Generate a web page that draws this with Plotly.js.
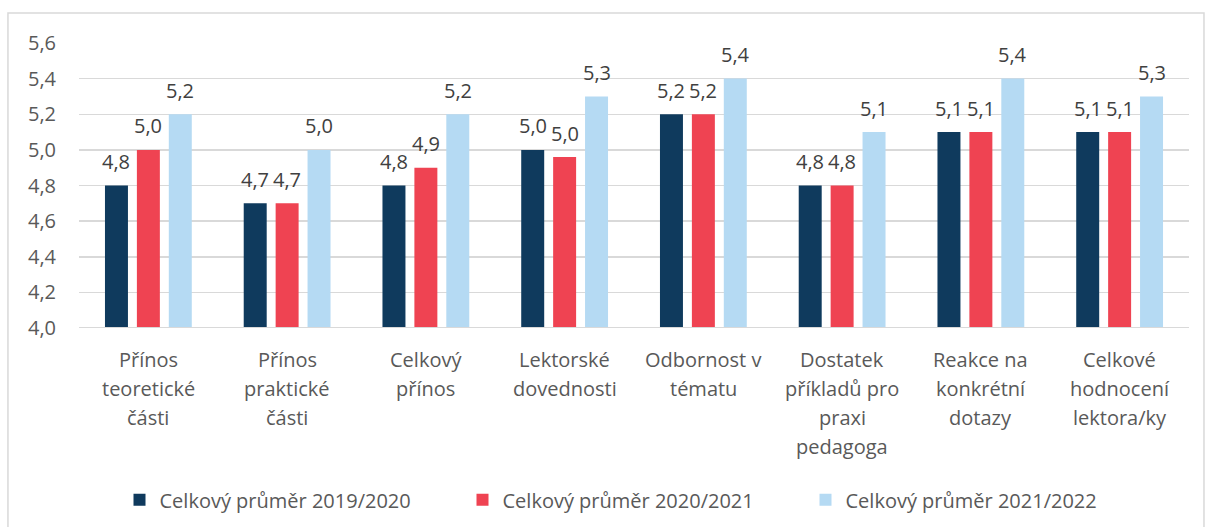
<!DOCTYPE html>
<html>
<head>
<meta charset="utf-8">
<script src="https://cdn.plot.ly/plotly-3.0.1.min.js"></script>
<style>
  html, body { margin: 0; padding: 0; background: #fff; }
  #chart { width: 1205px; height: 527px; }
</style>
</head>
<body>
<div id="chart"></div>
<script>
// categories (line breaks as in the reference)
const categories = [
  "Přínos|teoretické|části",
  "Přínos|praktické|části",
  "Celkový|přínos",
  "Lektorské|dovednosti",
  "Odbornost v|tématu",
  "Dostatek|příkladů pro|praxi|pedagoga",
  "Reakce na|konkrétní|dotazy",
  "Celkové|hodnocení|lektora/ky"
];

const seriesNames = [
  "Celkový průměr 2019/2020",
  "Celkový průměr 2020/2021",
  "Celkový průměr 2021/2022"
];

const avg2019 = [4.8, 4.7, 4.8, 5.0, 5.2, 4.8, 5.1, 5.1];
const avg2020 = [5.0, 4.7, 4.9, 4.96, 5.2, 4.8, 5.1, 5.1];
const avg2021 = [5.2, 5.0, 5.2, 5.3, 5.4, 5.1, 5.4, 5.3];

const colors = ["#0f3a5d", "#ef4352", "#b5daf3"];
const fontFamily = "'Open Sans', 'DejaVu Sans', sans-serif";

const allSeries = [avg2019, avg2020, avg2021];
let traces = [];
let annotations = [];
for (let i = 0; i < allSeries.length; i++) {
  traces.push({
    type: "bar",
    name: seriesNames[i],
    x: categories,
    y: allSeries[i],
    marker: { color: colors[i] },
    hoverinfo: "x+y+name"
  });
  // value labels sit a bit higher above the bars than plotly's own outside text
  for (let c = 0; c < categories.length; c++) {
    annotations.push({
      x: categories[c],
      xref: "x",
      y: allSeries[i][c],
      yref: "y",
      xshift: (i - 1) * 32,
      yshift: 24,
      yanchor: "middle",
      text: allSeries[i][c].toFixed(1).replace(".", ","),
      showarrow: false,
      font: { family: fontFamily, size: 20, color: "#404040" }
    });
  }
}

// category labels, one annotation per line
for (let c = 0; c < categories.length; c++) {
  const lines = categories[c].split("|");
  for (let l = 0; l < lines.length; l++) {
    annotations.push({
      x: categories[c],
      xref: "x",
      y: 0,
      yref: "paper",
      yanchor: "middle",
      yshift: -31 - 29 * l,
      text: lines[l],
      showarrow: false,
      font: { family: fontFamily, size: 20, color: "#595959" }
    });
  }
}

let layout = {
  width: 1205,
  height: 527,
  margin: { l: 79, r: 16, t: 43, b: 199, autoexpand: false },
  paper_bgcolor: "#ffffff",
  plot_bgcolor: "#ffffff",
  separators: ", ",
  barmode: "group",
  bargap: 0.31,
  bargroupgap: 0.28,
  showlegend: true,
  legend: {
    orientation: "h",
    x: 0.5,
    xanchor: "center",
    y: -0.603,
    yanchor: "middle",
    font: { family: fontFamily, size: 20, color: "#595959" },
    entrywidth: 298,
    itemwidth: 30,
    traceorder: "normal"
  },
  xaxis: {
    type: "category",
    showticklabels: false,
    showgrid: false,
    zeroline: false,
    showline: false,
    ticks: ""
  },
  yaxis: {
    range: [4.0, 5.6],
    dtick: 0.2,
    tick0: 4.0,
    tickformat: ".1f",
    showgrid: true,
    gridcolor: "#d9d9d9",
    gridwidth: 1.5,
    zeroline: false,
    showline: false,
    ticks: "",
    ticklabelstandoff: 22,
    tickfont: { family: fontFamily, size: 20, color: "#595959" }
  },
  annotations: annotations,
  shapes: [
    // outer chart border
    {
      type: "rect",
      xref: "paper",
      yref: "paper",
      x0: -0.064,
      x1: 1.0135,
      y0: -0.72,
      y1: 1.105,
      line: { color: "#d9d9d9", width: 1.5 },
      fillcolor: "rgba(0,0,0,0)",
      layer: "below"
    },
    // bottom axis line
    {
      type: "line",
      xref: "paper",
      yref: "y",
      x0: 0,
      x1: 1,
      y0: 4.0,
      y1: 4.0,
      line: { color: "#d9d9d9", width: 2 }
    }
  ]
};

Plotly.newPlot("chart", traces, layout, { displayModeBar: false, staticPlot: true });
</script>
</body>
</html>
